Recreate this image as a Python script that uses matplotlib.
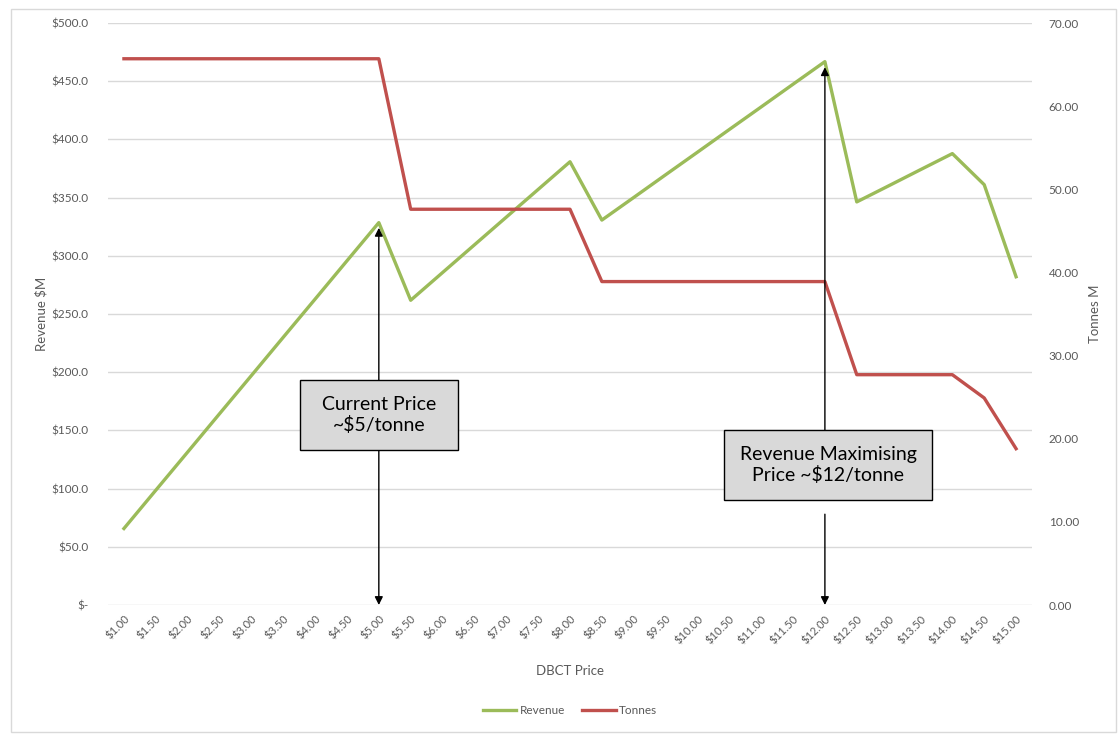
import matplotlib.pyplot as plt
from matplotlib.patches import Rectangle

# DBCT price categories ($/tonne)
prices = ["$1.00", "$1.50", "$2.00", "$2.50", "$3.00", "$3.50", "$4.00", "$4.50",
          "$5.00", "$5.50", "$6.00", "$6.50", "$7.00", "$7.50", "$8.00", "$8.50",
          "$9.00", "$9.50", "$10.00", "$10.50", "$11.00", "$11.50", "$12.00",
          "$12.50", "$13.00", "$13.50", "$14.00", "$14.50", "$15.00"]

revenue = [65.7, 98.6, 131.4, 164.3, 197.1, 230.0, 262.8, 295.7, 328.5,
           261.8, 285.6, 309.4, 333.2, 357.0, 380.8,
           330.7, 350.1, 369.6, 389.0, 408.5, 427.9, 447.4, 466.8,
           346.3, 360.1, 374.0, 387.8, 361.1, 282.0]

tonnes = [65.7, 65.7, 65.7, 65.7, 65.7, 65.7, 65.7, 65.7, 65.7,
          47.6, 47.6, 47.6, 47.6, 47.6, 47.6,
          38.9, 38.9, 38.9, 38.9, 38.9, 38.9, 38.9, 38.9,
          27.7, 27.7, 27.7, 27.7, 24.9, 18.8]

rev_ticks = [0, 50, 100, 150, 200, 250, 300, 350, 400, 450, 500]
rev_labels = ["$-"] + ["${:.1f}".format(v) for v in rev_ticks[1:]]
ton_ticks = [0, 10, 20, 30, 40, 50, 60, 70]

plt.rcParams['font.family'] = ['Lato', 'DejaVu Sans']
grey = "#595959"
green = "#9BBB59"
red = "#C0504D"

fig = plt.figure(figsize=(11.2, 7.4), dpi=100)
# outer chart border
fig.patches.append(Rectangle((11 / 1120, 1 - 732 / 740), 1105 / 1120, 723 / 740,
                             transform=fig.transFigure, fill=False,
                             edgecolor="#d9d9d9", linewidth=1))

ax = fig.add_axes([108 / 1120, 1 - 605 / 740, 924 / 1120, 582 / 740])
ax2 = ax.twinx()

x = list(range(len(prices)))
l1, = ax.plot(x, revenue, color=green, linewidth=2.4, label="Revenue", zorder=3)
l2, = ax2.plot(x, tonnes, color=red, linewidth=2.4, label="Tonnes", zorder=3)

ax.set_xlim(-0.5, len(prices) - 0.5)
ax.set_ylim(0, 500)
ax2.set_ylim(0, 70)
ax.set_yticks(rev_ticks)
ax.set_yticklabels(rev_labels)
ax2.set_yticks(ton_ticks)
ax2.set_yticklabels(["{:.2f}".format(v) for v in ton_ticks])
ax.set_xticks(x)
ax.set_xticklabels(prices, rotation=45, ha="right", rotation_mode="anchor")

ax.grid(axis="y", color="#d9d9d9", linewidth=1)
ax.set_axisbelow(True)
for a in (ax, ax2):
    for s in a.spines.values():
        s.set_visible(False)
    a.tick_params(length=0, colors=grey, labelsize=8.5)
ax.tick_params(axis="x", labelsize=8, pad=6)
ax.tick_params(axis="y", pad=14)
ax2.tick_params(axis="y", pad=12)

ax.set_xlabel("DBCT Price", color=grey, fontsize=9.5, labelpad=14)
ax.set_ylabel("Revenue $M", color=grey, fontsize=9.5, labelpad=3)
ax2.set_ylabel("Tonnes M", color=grey, fontsize=9.5, labelpad=7)

# annotation arrows
arrow = dict(arrowstyle="-|>", color="black", lw=1, shrinkA=0, shrinkB=0,
             mutation_scale=12)
ax2.annotate("", xy=(8, 324 * 70 / 500), xytext=(8, 163 * 70 / 500), arrowprops=arrow)
ax2.annotate("", xy=(8, 0), xytext=(8, 163 * 70 / 500), arrowprops=arrow)
ax2.annotate("", xy=(22, 462 * 70 / 500), xytext=(22, 120 * 70 / 500), arrowprops=arrow)
ax2.annotate("", xy=(22, 0), xytext=(22, 78 * 70 / 500), arrowprops=arrow)

# annotation boxes (axes fraction)
boxes = [((0.2078, 0.2663, 0.171, 0.1203), "Current Price\n~$5/tonne"),
         ((0.6667, 0.1804, 0.2251, 0.1203), "Revenue Maximising\nPrice ~$12/tonne")]
for (bx, by, bw, bh), txt in boxes:
    ax2.add_patch(Rectangle((bx, by), bw, bh, transform=ax2.transAxes,
                            facecolor="#d9d9d9", edgecolor="black", linewidth=1, zorder=5))
    ax2.text(bx + bw / 2, by + bh / 2, txt, transform=ax2.transAxes, ha="center",
             va="center", fontsize=14, zorder=6, linespacing=1.25)

fig.legend([l1, l2], ["Revenue", "Tonnes"], loc="center", ncol=2, frameon=False,
           bbox_to_anchor=(570 / 1120, 1 - 711 / 740), fontsize=8.5, labelcolor=grey,
           handlelength=2.8, handletextpad=0.3, columnspacing=1.5)

fig.savefig("out.png", dpi=100)
